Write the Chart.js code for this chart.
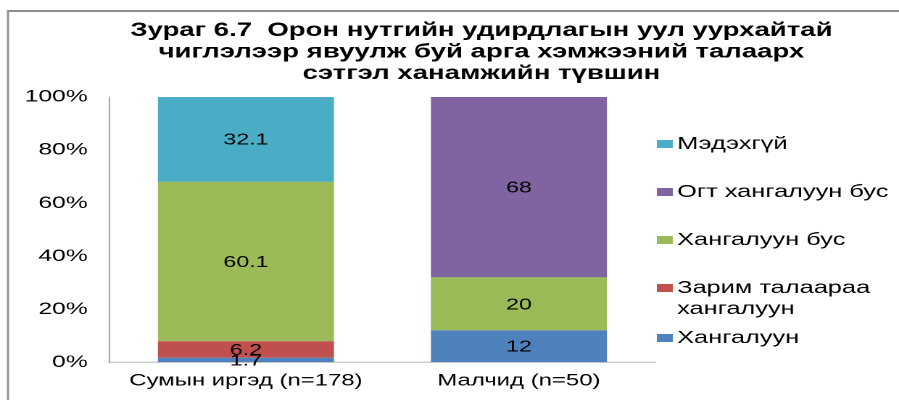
<!DOCTYPE html>
<html lang="mn">
<head>
<meta charset="utf-8">
<script src="https://cdn.jsdelivr.net/npm/chart.js@4"></script>
<style>
  html, body { margin: 0; padding: 0; background: #fff; overflow: hidden; }
  #grafico { display: block; }
</style>
</head>
<body>
<!-- the source image is stretched horizontally: draw at 620 wide, show at 899 -->
<canvas id="grafico" width="620" height="400" style="width:899px;height:400px"></canvas>
<script>
const TITULO = [
  'Зураг 6.7  Орон нутгийн удирдлагын уул уурхайтай',
  'чиглэлээр явуулж буй арга хэмжээний талаарх',
  'сэтгэл ханамжийн түвшин'
];
const categorias = ['Сумын иргэд (n=178)', 'Малчид (n=50)'];

// values per category, bottom of the stack first
const hangaluun    = [1.7, 12];
const zarim        = [6.2, 0];
const hangaluunBus = [60.1, 20];
const ogtBus       = [0, 68];
const medehgui     = [32.1, 0];

const rotulosSerie = ['Хангалуун', 'Зарим талаараа\nхангалуун', 'Хангалуун бус', 'Огт хангалуун бус', 'Мэдэхгүй'];
const coresSerie   = ['#4f81bd', '#c0504d', '#9bbb59', '#8064a2', '#4bacc6'];
const escalaY      = { min: 0, max: 100, passo: 20 };

const FONTE = '"Liberation Sans", Arial, sans-serif';

/* frame + title */
const moldura = {
  id: 'moldura',
  beforeDraw(chart) {
    const ctx = chart.ctx;
    ctx.save();
    ctx.fillStyle = '#fff';
    ctx.fillRect(0, 0, chart.width, chart.height);
    ctx.fillStyle = '#8f8f8f';
    ctx.fillRect(4.8, 10, 700, 2);
    ctx.fillRect(4.8, 10, 1.4, 400);
    ctx.restore();
  },
  afterDraw(chart) {
    const ctx = chart.ctx;
    ctx.save();
    ctx.font = 'bold 19px ' + FONTE;
    ctx.fillStyle = '#000';
    ctx.textAlign = 'center';
    ctx.textBaseline = 'middle';
    TITULO.forEach((l, i) => ctx.fillText(l, 332, 31 + i * 21.5));
    ctx.restore();
  }
};

/* values inside each segment */
const rotulos = {
  id: 'rotulos',
  afterDatasetsDraw(chart) {
    const ctx = chart.ctx;
    ctx.save();
    ctx.font = '16px ' + FONTE;
    ctx.fillStyle = '#000';
    ctx.textAlign = 'center';
    ctx.textBaseline = 'middle';
    chart.data.datasets.forEach((ds, i) => {
      chart.getDatasetMeta(i).data.forEach((bar, j) => {
        const v = ds.data[j];
        if (!v) return;
        const p = bar.getProps(['x', 'y', 'base'], true);
        ctx.fillText(String(v), p.x, (p.y + p.base) / 2 + 1);
      });
    });
    ctx.restore();
  }
};

/* legend on the right, top = last series */
const legenda = {
  id: 'legenda',
  afterDraw(chart) {
    const ctx = chart.ctx;
    const x0 = chart.chartArea.right + 1;
    let y = 144;
    ctx.save();
    ctx.font = '17.5px ' + FONTE;
    ctx.textBaseline = 'middle';
    chart.data.datasets.slice().reverse().forEach(ds => {
      const linhas = ds.label.split('\n');
      ctx.fillStyle = ds.backgroundColor;
      ctx.fillRect(x0, y - 4, 11, 8);
      ctx.fillStyle = '#000';
      linhas.forEach((t, k) => ctx.fillText(t, x0 + 14, y + k * 21));
      y += 48 + (linhas.length - 1) * 2;
    });
    ctx.restore();
  }
};

const series = [hangaluun, zarim, hangaluunBus, ogtBus, medehgui];

new Chart(document.getElementById('grafico'), {
  type: 'bar',
  data: {
    labels: categorias,
    datasets: series.map((d, i) => ({
      label: rotulosSerie[i],
      data: d,
      backgroundColor: coresSerie[i],
      borderWidth: 0,
      barPercentage: 0.645,
      categoryPercentage: 1
    }))
  },
  options: {
    responsive: false,
    animation: false,
    devicePixelRatio: 2,
    // chart.js reserves 2x the tick padding, hence the small outer paddings
    layout: { padding: { top: 97, left: 2, right: 168, bottom: 0 } },
    plugins: { legend: { display: false }, tooltip: { enabled: false }, title: { display: false } },
    scales: {
      x: {
        stacked: true,
        grid: { display: false, drawTicks: false },
        border: { display: true, color: '#d0d0d0', width: 1.5 },
        ticks: {
          padding: 9, color: '#000', maxRotation: 0, minRotation: 0, autoSkip: false,
          font: { family: FONTE, size: 16.5 }
        }
      },
      y: {
        stacked: true,
        min: escalaY.min, max: escalaY.max,
        grid: { display: false, drawTicks: false },
        border: { display: true, color: '#a6a6a6', width: 1 },
        ticks: {
          stepSize: escalaY.passo, padding: 15, color: '#000',
          font: { family: FONTE, size: 17 },
          callback: v => v + '%'
        }
      }
    }
  },
  plugins: [moldura, rotulos, legenda]
});
</script>
</body>
</html>
